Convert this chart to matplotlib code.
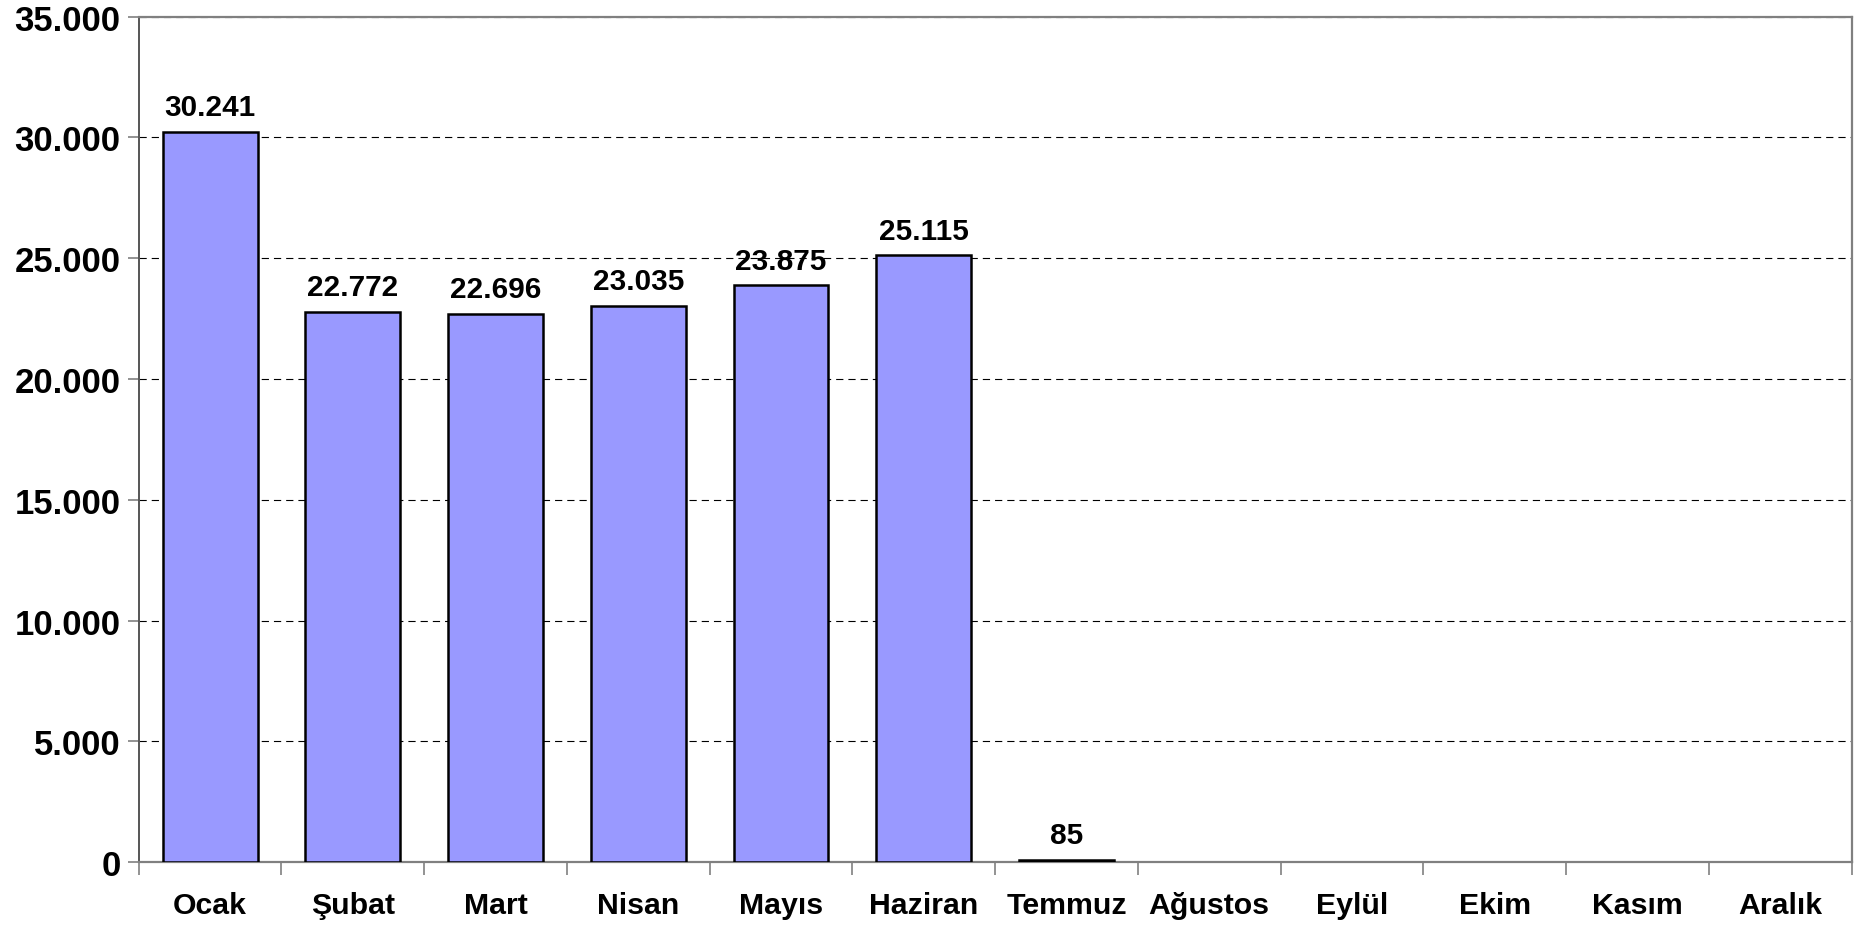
import matplotlib.pyplot as plt
import numpy as np
from matplotlib.ticker import FuncFormatter

months = ['Ocak', 'Şubat', 'Mart', 'Nisan', 'Mayıs', 'Haziran',
          'Temmuz', 'Ağustos', 'Eylül', 'Ekim', 'Kasım', 'Aralık']
values = [30241, 22772, 22696, 23035, 23875, 25115, 85]
yticks = [0, 5000, 10000, 15000, 20000, 25000, 30000, 35000]


def dotted(v):
    # thousands separated with a dot
    return f'{int(v):,}'.replace(',', '.')


def main():
    plt.rcParams['font.family'] = ['Liberation Sans', 'DejaVu Sans']
    plt.rcParams['font.weight'] = 'bold'

    fig = plt.figure(figsize=(18.74, 9.29), dpi=100)
    ax = fig.add_axes([0.074, 0.071, 0.914, 0.910])

    x = np.arange(len(values))
    bars = ax.bar(x, values, width=0.665, color='#9999FF',
                  edgecolor='black', linewidth=1.8, zorder=3)

    for bar, v in zip(bars, values):
        ax.annotate(dotted(v), (bar.get_x() + bar.get_width() / 2, v),
                    xytext=(0, 12), textcoords='offset points',
                    ha='center', va='baseline', fontsize=21.4,
                    fontweight='bold')

    ax.set_xlim(-0.5, len(months) - 0.5)
    ax.set_ylim(0, 35000)

    ax.set_yticks(yticks)
    ax.yaxis.set_major_formatter(FuncFormatter(lambda v, p: dotted(v)))
    ax.yaxis.grid(True, linestyle=(0, (6.5, 4.5)), color='black',
                  linewidth=0.8, zorder=0)

    # month names centred, tick marks between categories
    ax.set_xticks(np.arange(len(months) + 1) - 0.5)
    ax.set_xticklabels([])
    ax.set_xticks(np.arange(len(months)), minor=True)
    ax.set_xticklabels(months, minor=True)
    ax.tick_params(axis='x', which='minor', length=0, pad=21,
                   labelsize=21.8)
    ax.tick_params(axis='x', which='major', length=9, width=1.2,
                   color='#808080', direction='out')
    ax.tick_params(axis='y', length=8, width=1.2, color='#808080',
                   labelsize=25, pad=5)

    for side in ['top', 'right', 'bottom']:
        ax.spines[side].set_color('#808080')
        ax.spines[side].set_linewidth(1.6)
    ax.spines['left'].set_color('#555555')
    ax.spines['left'].set_linewidth(1.4)

    fig.savefig('out.png', dpi=100)


if __name__ == "__main__":
    main()
